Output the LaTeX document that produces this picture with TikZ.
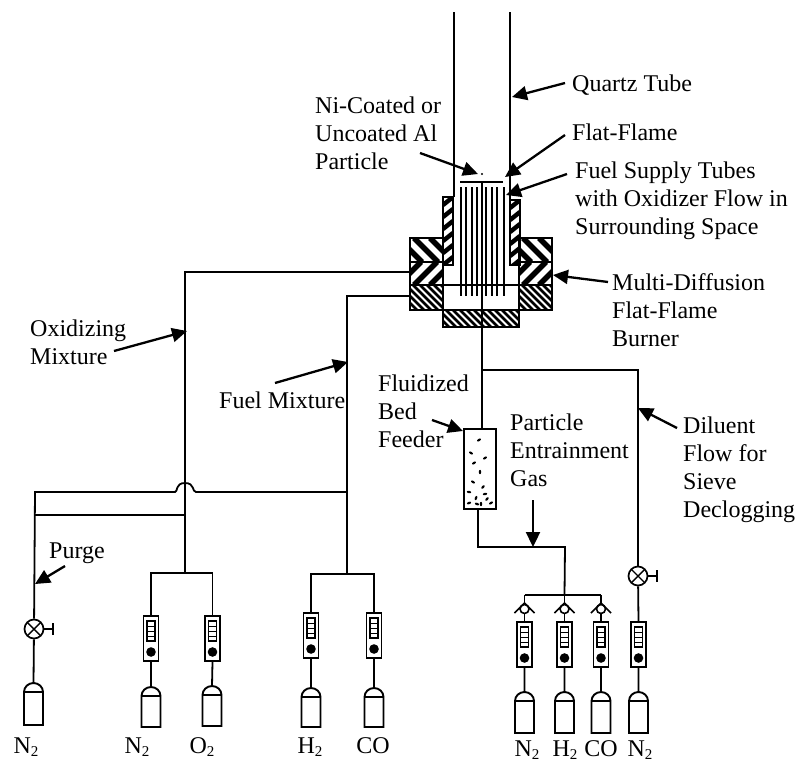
\documentclass[tikz,border=0pt]{standalone}
\usepackage{fontspec}
\setmainfont{Liberation Serif}
\usetikzlibrary{arrows.meta}
\tikzset{
 pipe/.style={line width=1.8pt},
 lab/.style={font=\fontsize{24}{28}\selectfont,align=left,anchor=west,inner sep=0pt},
 gas/.style={font=\fontsize{24}{28}\selectfont,anchor=base,inner sep=0pt},
 ptr/.style={line width=2.3pt,-{Triangle[length=15pt,width=14pt]}},
 blk/.style={draw,line width=2pt},
}
\newcommand{\subtwo}{\raisebox{-3.5pt}{\fontsize{15}{15}\selectfont 2}}
% rotameter: centre x, top y
\newcommand{\rota}[3]{%
 \node[draw,line width=1.9pt,minimum width=15pt,minimum height=45pt,inner sep=0pt,anchor=north] (#3) at (#1,#2) {};
 \draw[line width=1.4pt] (#1-4,#2+6) rectangle (#1+4,#2+26);
 \draw[line width=1pt] (#1-4,#2+11)--(#1+4,#2+11) (#1-4,#2+16)--(#1+4,#2+16) (#1-4,#2+21)--(#1+4,#2+21);
 \fill (#1,#2+37) circle (4.8);
}
% cylinder: centre x, dome top y, bottom y
\newcommand{\cyl}[4]{%
 \coordinate (#4) at (#1,#2);
 \draw[line width=1.9pt] (#1-9.5,#2+9) arc[start angle=180,end angle=360,x radius=9.5,y radius=9] -- (#1+9.5,#3) -- (#1-9.5,#3) -- cycle;
 \draw[line width=1.7pt] (#1-9.5,#2+9) -- (#1+9.5,#2+9);
}
% needle valve: centre x,y
\newcommand{\nvalve}[3]{%
 \node[draw,circle,line width=1.7pt,minimum size=19pt,inner sep=0pt] (#3) at (#1,#2) {};
 \draw[line width=1.4pt] (#1-6.5,#2-6.5)--(#1+6.5,#2+6.5) (#1-6.5,#2+6.5)--(#1+6.5,#2-6.5);
 \draw[line width=1.6pt] (#1+9.5,#2)--(#1+19,#2) (#1+19,#2-6)--(#1+19,#2+6);
}
% check valve
\newcommand{\chk}[3]{%
 \node[draw,circle,line width=1.6pt,minimum size=9pt,inner sep=0pt,fill=white] (#3) at (#1,#2) {};
 \draw[line width=1.6pt] (#1-10,#2+4)--(#1,#2-6)--(#1+10,#2+4);
}
\newcommand{\hatchbox}[7]{% x1,y1,x2,y2,lw,step,spec
 \begin{scope}
 \clip (#1,#2) rectangle (#3,#4);
 \foreach \k in {-60,#6,...,160} {\draw[line width=#5] #7;}
 \end{scope}
 \draw[blk] (#1,#2) rectangle (#3,#4);
}
\begin{document}
\begin{tikzpicture}[x=1pt,y=-1pt]
\useasboundingbox (0,0) rectangle (797,763);
\fill[white] (0,0) rectangle (797,763);
% burner blocks
\hatchbox{410}{285}{443}{310}{2.5pt}{-53}{(410+\k,285)--(410+\k+25,310)}
\hatchbox{519}{285}{552}{310}{2.5pt}{-53}{(519+\k,285)--(519+\k+25,310)}
\hatchbox{443}{310}{519}{327}{2.5pt}{-53}{(443+\k,310)--(443+\k+17,327)}
\hatchbox{410}{238}{443}{262}{5.5pt}{-44}{(410+\k,238)--(410+\k+24,262)}
\hatchbox{410}{262}{443}{285}{5.5pt}{-44}{(410+\k,285)--(410+\k+23,262)}
\hatchbox{519}{238}{552}{262}{5.5pt}{-44}{(519+\k,238)--(519+\k+24,262)}
\hatchbox{519}{262}{552}{285}{5.5pt}{-44}{(519+\k,285)--(519+\k+23,262)}
\begin{scope}
\clip (443,197) rectangle (453,265);
\foreach \k in {0,1,...,6} {\draw[line width=4.5pt] (443,205+\k*12)--(453,197+\k*12);}
\end{scope}
\draw[blk] (443,197) rectangle (453,265);
\begin{scope}
\clip (510,200) rectangle (520,265);
\foreach \k in {0,1,...,6} {\draw[line width=4.5pt] (510,208+\k*12)--(520,200+\k*12);}
\end{scope}
\draw[blk] (510,200) rectangle (520,265);
\draw[blk] (443,285)--(519,285) (443,285)--(443,310) (519,285)--(519,310);
% quartz tube
\coordinate (ql) at (454,12); \coordinate (qlb) at (454,197);
\coordinate (qr) at (510,12); \coordinate (qrb) at (510,200);
\draw[pipe] (ql)--(qlb) (qr)--(qrb);
% tubes and flame
\coordinate (flameL) at (460,182); \coordinate (flameR) at (503,182);
\draw[line width=1.8pt] (flameL)--(flameR);
\foreach \x in {461,466,472,477,486,492,497,504} {\draw[line width=1.6pt] (\x,187)--(\x,296);}
\fill (482,174) circle (1.2);
% rotameters and cylinders
\rota{151}{615}{r1}\cyl{151}{687}{727}{c1}
\rota{212.5}{615}{r2}\cyl{212}{686}{726}{c2}
\rota{311}{612}{r3}\cyl{311}{688}{727}{c3}
\rota{374}{612}{r4}\cyl{374}{688}{727}{c4}
\rota{524.5}{621}{r5}\cyl{524.5}{692}{733}{c5}
\rota{564.5}{621}{r6}\cyl{564.5}{692}{733}{c6}
\rota{601}{621}{r7}\cyl{601}{692}{733}{c7}
\rota{638.5}{621}{r8}\cyl{638.5}{692}{733}{c8}
\draw[pipe] (r1.south)--(c1) (r2.south)--(c2) (r3.south)--(c3) (r4.south)--(c4)
 (r5.south)--(c5) (r6.south)--(c6) (r7.south)--(c7) (r8.south)--(c8);
% valves
\nvalve{34}{629}{v1}
\nvalve{638}{576}{v2}
\cyl{33.5}{683}{725}{c0}
\draw[pipe] (v1)--(c0);
\draw[pipe] (v2)--(r8.north);
% check valves
\coordinate (bar1) at (524.5,595); \coordinate (bar2) at (601,595); \coordinate (bar0) at (564.5,595);
\draw[pipe] (bar1)--(bar2);
\draw[pipe] (bar1)--(524.5,603) (bar0)--(564.5,603) (bar2)--(601,603);
\chk{524.5}{609}{k1}\chk{564.5}{609}{k2}\chk{601}{609}{k3}
\draw[pipe] (k1)--(r5) (k2)--(r6) (k3)--(r7);
% oxidizer manifold
\coordinate (ox) at (185,272); \coordinate (oxe) at (410,272);
\coordinate (oxb) at (185,573);
\draw[pipe] (oxe)--(ox)--(oxb);
\draw[pipe] (r1.north)--(151,573)--(212.5,573)--(r2.north);
% fuel manifold
\coordinate (fu) at (347,296); \coordinate (fue) at (410,296); \coordinate (fub) at (347,574);
\draw[pipe] (fue)--(fu)--(fub);
\draw[pipe] (r3.north)--(311,574)--(374,574)--(r4.north);
% purge lines
\coordinate (pl) at (35,492);
\draw[pipe] (v1)--(pl)--(175,492) .. controls (178,492) and (175,483) .. (185,483) .. controls (195,483) and (192,492) .. (196,492) -- (347,492);
\draw[pipe] (35,515)--(185,515);
% centre line and diluent
\draw[line width=1.9pt] (482,182)--(482,370);
\coordinate (dil) at (638,370);
\draw[pipe] (482,370)--(dil)--(v2);
% feeder
\node[draw,line width=2.2pt,minimum width=32pt,minimum height=80pt,inner sep=0pt,anchor=north west] (fd) at (463,428) {};
\draw[pipe] (482,370)--(482,428);
\coordinate (ent) at (565,547);
\draw[pipe] (478,508)--(478,547)--(ent)--(bar0);
\foreach \p/\q/\a in {479/440/30,471/453/-30,474/463/30,485/458/30,480/472/90,473/482/-30,483/487/50,469/492/-10,485/494/10,476/498/70,487/499/50,469/503/20,477/504/-20,481/504/90,491/503/30} {
 \fill[rotate around={\a:(\p,\q)}] (\p,\q) ellipse (2.2 and 1.2);
}
% pointers
\draw[ptr] (565,83)--(512,97);
\draw[ptr] (420,153)--(478,174);
\draw[ptr] (565,135)--(505,177);
\draw[ptr] (567,174)--(506,195);
\draw[ptr] (608,282)--(553,275);
\draw[ptr] (114,351)--(187,331);
\draw[ptr] (275,383)--(348,362);
\draw[ptr] (432,420)--(463,431);
\draw[ptr] (533,500)--(533,547);
\draw[ptr] (677,428)--(638,408);
\draw[ptr] (65,566)--(35,584);
% labels
\node[lab] (t1) at (572,85) {Quartz Tube};
\node[lab] (t2) at (315,133) {Ni-Coated or\\Uncoated Al\\Particle};
\node[lab] (t3) at (572,132) {Flat-Flame};
\node[lab] (t4) at (575,201) {Fuel Supply Tubes\\with Oxidizer Flow in\\Surrounding Space};
\node[lab] (t5) at (612,310) {Multi-Diffusion\\Flat-Flame\\Burner};
\node[lab] (t6) at (30,342) {Oxidizing\\Mixture};
\node[lab] (t7) at (219,400) {Fuel Mixture};
\node[lab] (t8) at (378,411) {Fluidized\\Bed\\Feeder};
\node[lab] (t9) at (510,450) {Particle\\Entrainment\\Gas};
\node[lab] (t10) at (683,470) {Diluent\\Flow for\\Sieve\\Declogging};
\node[lab] (t11) at (49,553) {Purge};
\node[gas] (g0) at (26,753) {N\subtwo};
\node[gas] (g1) at (137,753) {N\subtwo};
\node[gas] (g2) at (202,753) {O\subtwo};
\node[gas] (g3) at (310,753) {H\subtwo};
\node[gas] (g4) at (373,753) {CO};
\node[gas] (g5) at (527,756) {N\subtwo};
\node[gas] (g6) at (565,756) {H\subtwo};
\node[gas] (g7) at (601,756) {CO};
\node[gas] (g8) at (640,756) {N\subtwo};
\end{tikzpicture}
\end{document}
